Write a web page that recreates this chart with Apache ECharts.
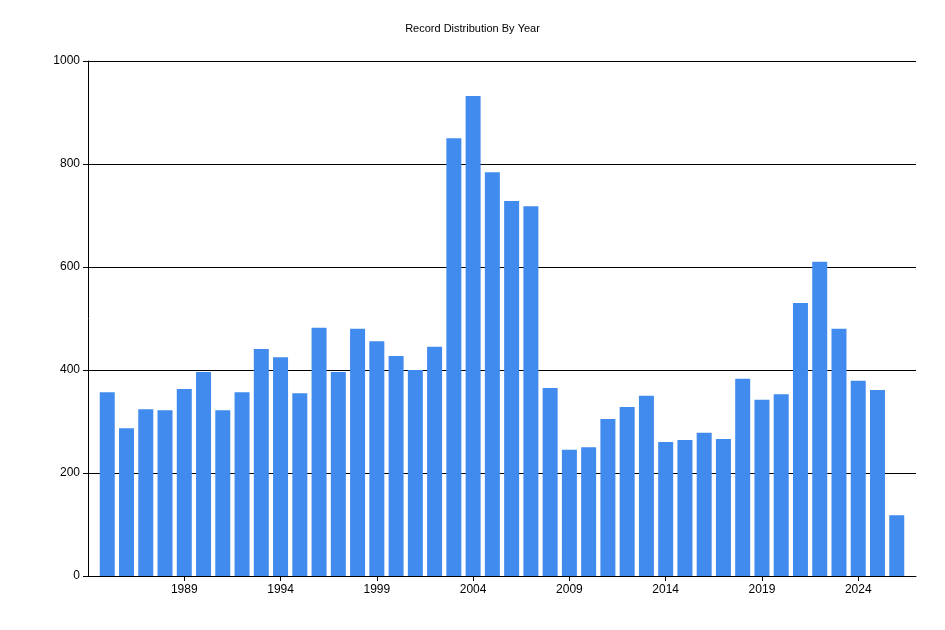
<!DOCTYPE html>
<html><head><meta charset="utf-8">
<script src="https://cdn.jsdelivr.net/npm/echarts@6/dist/echarts.min.js"></script>
<style>html,body{margin:0;background:#fff}#main{width:945px;height:630px}</style>
</head><body><div id="main"></div>
<script>
var years = [];
for (var y = 1985; y <= 2026; y++) years.push(y);
var counts = [357, 287, 324, 322, 363, 396, 322, 357, 441, 425, 355, 482, 396, 480, 456, 427, 400, 445,
  850, 932, 784, 728, 718, 365, 245, 250, 305, 328, 350, 260, 264, 278, 266, 383, 342, 353, 530, 610,
  480, 379, 361, 118];
var xTicks = [1989, 1994, 1999, 2004, 2009, 2014, 2019, 2024];

var myChart = echarts.init(document.getElementById('main'));
myChart.setOption({
  animation: false,
  title: {
    text: 'Record Distribution By Year', left: 'center', top: 18,
    textStyle: { fontSize: 11, fontWeight: 'normal', color: '#000', fontFamily: 'Liberation Sans' }
  },
  grid: { left: 88, right: 29, top: 61, bottom: 54 },
  xAxis: {
    type: 'value', min: 1984, max: 2027,
    axisLine: { lineStyle: { color: '#000' } },
    axisTick: { customValues: xTicks, length: 5, lineStyle: { color: '#000' } },
    axisLabel: { customValues: xTicks, color: '#000', fontSize: 12, fontFamily: 'Liberation Sans',
      formatter: function (v) { return String(v); } },
    splitLine: { show: false }
  },
  yAxis: {
    type: 'value', min: 0, max: 1000, interval: 200,
    axisLine: { show: true, lineStyle: { color: '#000' } },
    axisTick: { show: true, length: 5, lineStyle: { color: '#000' } },
    axisLabel: { color: '#000', fontSize: 12, fontFamily: 'Liberation Sans',
      formatter: function (v) { return String(v); } },
    splitLine: { lineStyle: { color: '#000' } }
  },
  series: [{
    type: 'bar',
    data: years.map(function (yr, i) { return [yr, counts[i]]; }),
    barWidth: 15,
    itemStyle: { color: '#428bee' }
  }]
});
</script></body></html>
